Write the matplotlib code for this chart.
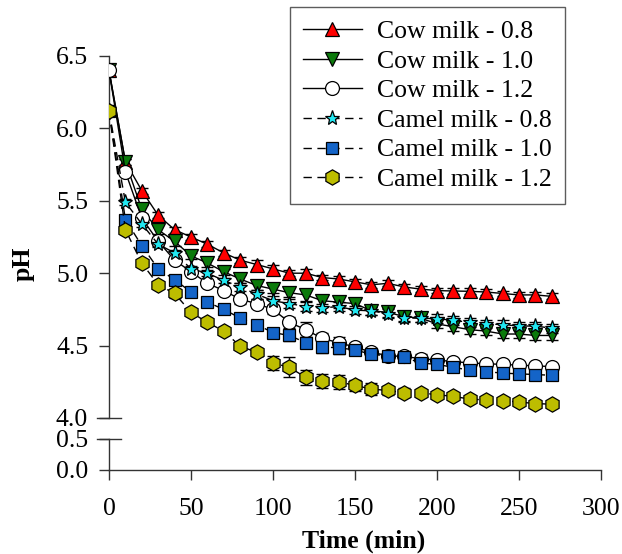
import matplotlib
matplotlib.use("Agg")
import matplotlib.pyplot as plt

plt.rcParams['font.family'] = ['Liberation Serif', 'DejaVu Serif']

time = [0, 10, 20, 30, 40, 50, 60, 70, 80, 90, 100, 110, 120, 130, 140,
        150, 160, 170, 180, 190, 200, 210, 220, 230, 240, 250, 260, 270]

cow08 = [6.40, 5.77, 5.57, 5.40, 5.30, 5.25, 5.20, 5.14, 5.09, 5.06, 5.03, 5.00, 5.00, 4.97,
         4.96, 4.94, 4.92, 4.93, 4.905, 4.89, 4.88, 4.877, 4.875, 4.87, 4.86, 4.85, 4.85, 4.84]
cow10 = [6.40, 5.77, 5.44, 5.30, 5.22, 5.12, 5.07, 5.01, 4.96, 4.915, 4.89, 4.865, 4.85, 4.81,
         4.80, 4.79, 4.74, 4.73, 4.70, 4.69, 4.65, 4.63, 4.61, 4.60, 4.58, 4.58, 4.57, 4.57]
cow12 = [6.40, 5.70, 5.38, 5.22, 5.09, 5.01, 4.93, 4.88, 4.82, 4.79, 4.75, 4.66, 4.61, 4.55,
         4.52, 4.49, 4.455, 4.43, 4.425, 4.41, 4.40, 4.39, 4.38, 4.375, 4.37, 4.365, 4.36, 4.355]
camel08 = [6.12, 5.49, 5.34, 5.20, 5.14, 5.03, 5.00, 4.95, 4.905, 4.855, 4.81, 4.79, 4.77, 4.76,
           4.77, 4.745, 4.74, 4.72, 4.69, 4.69, 4.685, 4.675, 4.66, 4.65, 4.645, 4.635, 4.635, 4.62]
camel10 = [6.12, 5.37, 5.19, 5.03, 4.955, 4.87, 4.80, 4.75, 4.69, 4.645, 4.59, 4.57, 4.52, 4.49,
           4.485, 4.47, 4.44, 4.43, 4.42, 4.38, 4.37, 4.35, 4.33, 4.32, 4.31, 4.305, 4.30, 4.295]
camel12 = [6.12, 5.30, 5.07, 4.92, 4.86, 4.73, 4.66, 4.60, 4.495, 4.455, 4.38, 4.35, 4.28, 4.255,
           4.25, 4.225, 4.20, 4.19, 4.175, 4.175, 4.16, 4.15, 4.13, 4.125, 4.12, 4.11, 4.10, 4.095]

err_cow08 = [0.02, 0.02, 0.02, 0.02, 0.02, 0.02, 0.02, 0.02, 0.02, 0.03, 0.03, 0.02, 0.03, 0.02,
             0.02, 0.02, 0.02, 0.02, 0.02, 0.02, 0.02, 0.02, 0.02, 0.02, 0.02, 0.02, 0.02, 0.02]
err_cow10 = [0.02, 0.02, 0.03, 0.03, 0.03, 0.02, 0.03, 0.02, 0.03, 0.03, 0.03, 0.03, 0.04, 0.04,
             0.04, 0.04, 0.03, 0.03, 0.03, 0.03, 0.03, 0.03, 0.03, 0.03, 0.03, 0.03, 0.03, 0.03]
err_cow12 = [0.02, 0.02, 0.03, 0.03, 0.02, 0.02, 0.02, 0.02, 0.03, 0.03, 0.03, 0.04, 0.05, 0.04,
             0.04, 0.03, 0.03, 0.03, 0.03, 0.03, 0.02, 0.02, 0.02, 0.02, 0.02, 0.02, 0.02, 0.02]
err_camel08 = [0.02, 0.02, 0.02, 0.02, 0.02, 0.02, 0.02, 0.02, 0.03, 0.03, 0.03, 0.03, 0.03, 0.03,
               0.03, 0.03, 0.03, 0.03, 0.03, 0.03, 0.03, 0.03, 0.03, 0.03, 0.03, 0.03, 0.03, 0.03]
err_camel10 = [0.02, 0.03, 0.02, 0.02, 0.03, 0.02, 0.02, 0.02, 0.02, 0.03, 0.03, 0.04, 0.04, 0.04,
               0.04, 0.03, 0.03, 0.03, 0.03, 0.02, 0.02, 0.02, 0.02, 0.02, 0.02, 0.02, 0.02, 0.02]
err_camel12 = [0.02, 0.02, 0.02, 0.02, 0.03, 0.02, 0.02, 0.02, 0.02, 0.03, 0.05, 0.07, 0.05, 0.05,
               0.05, 0.04, 0.04, 0.03, 0.03, 0.02, 0.02, 0.02, 0.02, 0.02, 0.02, 0.02, 0.02, 0.02]

labels = ["Cow milk - 0.8", "Cow milk - 1.0", "Cow milk - 1.2",
          "Camel milk - 0.8", "Camel milk - 1.0", "Camel milk - 1.2"]
series = [cow08, cow10, cow12, camel08, camel10, camel12]
errors = [err_cow08, err_cow10, err_cow12, err_camel08, err_camel10, err_camel12]
markers = ['^', 'v', 'o', '*', 's', 'h']
colors = ['#FF0000', '#0B7A0B', '#FFFFFF', '#22E8F2', '#1464C8', '#BDBD00']
msizes = [10, 10, 10, 11, 9, 11]
dashed = [False, False, False, True, True, True]

fig = plt.figure(figsize=(6.22, 5.54), dpi=100)
W, H = 622, 554
left = 109 / W
width = (601 - 109) / W
ax = fig.add_axes([left, (H - 418) / H, width, (418 - 56) / H])
axb = fig.add_axes([left, (H - 470) / H, width, (470 - 438.7) / H], sharex=ax)

handles = []
for y, e, m, c, ms, d, lab in zip(series, errors, markers, colors, msizes, dashed, labels):
    ls = (0, (6, 4)) if d else '-'
    ax.errorbar(time, y, yerr=e, fmt='none', ecolor='black', elinewidth=1.0,
                capsize=4.5, capthick=1.0, zorder=2)
    ln, = ax.plot(time, y, linestyle=ls, color='black', linewidth=1.0,
                  marker=m, markersize=ms, markerfacecolor=c,
                  markeredgecolor='black', markeredgewidth=0.9, zorder=3, label=lab)
    handles.append(ln)

ax.set_xlim(0, 300)
ax.set_ylim(4.0, 6.5)
axb.set_ylim(0.0, 0.5)

for s in ['top', 'right', 'bottom']:
    ax.spines[s].set_visible(False)
for s in ['top', 'right']:
    axb.spines[s].set_visible(False)
for a in (ax, axb):
    a.spines['left'].set_linewidth(1.0)
    a.spines['left'].set_color('#333333')
    a.spines['bottom'].set_linewidth(1.0)
    a.spines['bottom'].set_color('#333333')
    a.tick_params(axis='both', direction='out', length=7, width=1.0,
                  colors='#333333', labelcolor='black', labelsize=18.5)
    a.tick_params(axis='y', pad=8)
    a.tick_params(axis='x', pad=13)
    a.set_facecolor('none')

ax.tick_params(axis='x', bottom=False, labelbottom=False)
ax.set_yticks([4.0, 4.5, 5.0, 5.5, 6.0, 6.5])
ax.set_yticklabels(['4.0', '4.5', '5.0', '5.5', '6.0', '6.5'])
axb.set_yticks([0.0, 0.5])
axb.set_yticklabels(['0.0', '0.5'])
axb.set_xticks([0, 50, 100, 150, 200, 250, 300])

# break marks
bw = 12 / (601 - 109)
ax.plot([-bw, bw], [0, 0], transform=ax.transAxes, color='#333333', lw=1.0, clip_on=False)
axb.plot([-bw, bw], [1, 1], transform=axb.transAxes, color='#333333', lw=1.0, clip_on=False)

fig.text(364 / W, 1 - 541 / H, 'Time (min)', ha='center', va='center',
         fontsize=18.5, fontweight='bold')
fig.text(23 / W, 1 - 264 / H, 'pH', ha='center', va='center', rotation=90,
         fontsize=18.5, fontweight='bold')

leg = ax.legend(handles=handles, loc='upper left',
                bbox_to_anchor=(290 / W, 1 - 7 / H), bbox_transform=fig.transFigure,
                fontsize=18.5, frameon=True, fancybox=False, handlelength=2.3,
                handletextpad=0.6, labelspacing=0.26, borderpad=0.5, borderaxespad=0,
                numpoints=1)
leg.get_frame().set_edgecolor('#333333')
leg.get_frame().set_linewidth(1.0)

fig.savefig('out.png', dpi=100)
